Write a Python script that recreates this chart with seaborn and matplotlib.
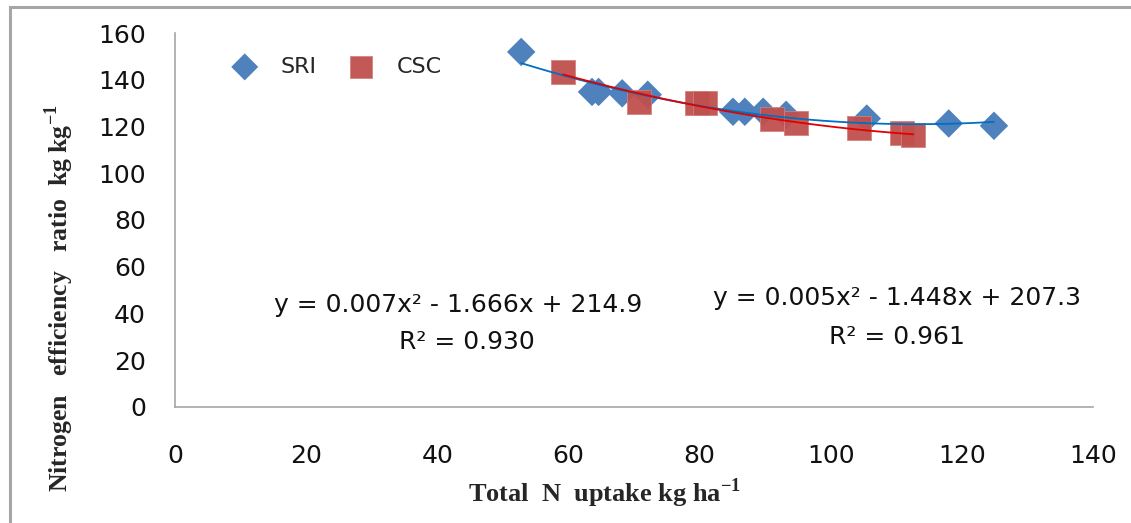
import numpy as np
import pandas as pd
import matplotlib.pyplot as plt
import seaborn as sns
from matplotlib.patches import Rectangle

# SRI data (diamonds)
sri_x = [52.8, 63.6, 64.6, 68.2, 72.1, 85.1, 86.9, 89.7, 93.2, 105.5, 118.0, 124.9]
sri_y = [151.9, 134.8, 134.8, 134.2, 133.6, 126.3, 126.3, 126.3, 125.0, 123.4, 121.3, 120.3]

# CSC data (squares)
csc_x = [59.2, 70.8, 79.6, 80.9, 91.1, 94.7, 104.3, 110.8, 112.6]
csc_y = [143.5, 130.6, 129.9, 129.9, 123.3, 121.4, 119.2, 117.1, 116.2]

# trendline labels as printed on the chart
eq_left = "y = 0.007x² - 1.666x + 214.9"
r2_left = "R² = 0.930"
eq_right = "y = 0.005x² - 1.448x + 207.3"
r2_right = "R² = 0.961"

x_ticks = [0, 20, 40, 60, 80, 100, 120, 140]
y_ticks = [0, 20, 40, 60, 80, 100, 120, 140, 160]

df_sri = pd.DataFrame({'x': sri_x, 'y': sri_y})
df_csc = pd.DataFrame({'x': csc_x, 'y': csc_y})

sns.set_style("white")
plt.rcParams['font.family'] = ['DejaVu Sans']
plt.rcParams['mathtext.fontset'] = 'custom'
plt.rcParams['mathtext.rm'] = 'Liberation Serif'
plt.rcParams['mathtext.bf'] = 'Liberation Serif:bold'

fig = plt.figure(figsize=(11.31, 5.23), dpi=100)
ax = fig.add_axes([0.1547, 0.2218, 0.8117, 0.7151])

# outer frame (only top and left edges visible)
fig.patches.append(Rectangle((0.0085, -0.05), 1.1, 0.9866 + 0.05, transform=fig.transFigure,
                             fill=False, edgecolor='#a6a6a6', linewidth=2.2))

sns.scatterplot(data=df_sri, x='x', y='y', marker='D', s=210, color='#4F81BD',
                edgecolor='none', label='SRI', ax=ax, zorder=3)
sns.scatterplot(data=df_csc, x='x', y='y', marker='s', s=300, color='#C0504D',
                edgecolor='#D08080', linewidth=0.6, alpha=0.95, label='CSC', ax=ax, zorder=3)

# second order trendlines
sns.regplot(data=df_sri, x='x', y='y', order=2, ci=None, scatter=False,
            line_kws={'color': '#0070C0', 'linewidth': 1.3, 'zorder': 4}, ax=ax)
sns.regplot(data=df_csc, x='x', y='y', order=2, ci=None, scatter=False,
            line_kws={'color': '#E00000', 'linewidth': 1.3, 'zorder': 5}, ax=ax)

ax.text(43.2, 43.6, eq_left, ha='center', va='center', fontsize=18, color='#111111')
ax.text(44.5, 27.8, r2_left, ha='center', va='center', fontsize=18, color='#111111')
ax.text(110.1, 46.6, eq_right, ha='center', va='center', fontsize=18, color='#111111')
ax.text(110.1, 29.9, r2_right, ha='center', va='center', fontsize=18, color='#111111')

ax.set_xlim(0, 140)
ax.set_ylim(0, 160)
ax.set_xticks(x_ticks)
ax.set_yticks(y_ticks)
ax.tick_params(axis='both', labelsize=18, colors='#a6a6a6', labelcolor='#111111',
               direction='out', length=7, width=1.2)
ax.tick_params(axis='x', pad=20)
ax.tick_params(axis='y', pad=14)
for side in ['top', 'right']:
    ax.spines[side].set_visible(False)
for side in ['left', 'bottom']:
    ax.spines[side].set_color('#a6a6a6')
    ax.spines[side].set_linewidth(1.2)

ax.set_xlabel("Total  N  uptake kg ha$^{\\mathbf{-1}}$", fontsize=19, fontweight='bold',
              family='Liberation Serif')
ax.xaxis.set_label_coords(0.468, -0.185)
ax.set_ylabel("Nitrogen   efficiency   ratio  kg kg$^{\\mathbf{-1}}$", fontsize=18.5,
              fontweight='bold', family='Liberation Serif')
ax.yaxis.set_label_coords(-0.108, 0.29)

ax.legend(loc='upper left', ncol=2, frameon=False, fontsize=16, bbox_to_anchor=(0.03, 0.99),
          handletextpad=0.6, columnspacing=1.0, markerscale=0.95)

plt.savefig("out.png", dpi=100)
